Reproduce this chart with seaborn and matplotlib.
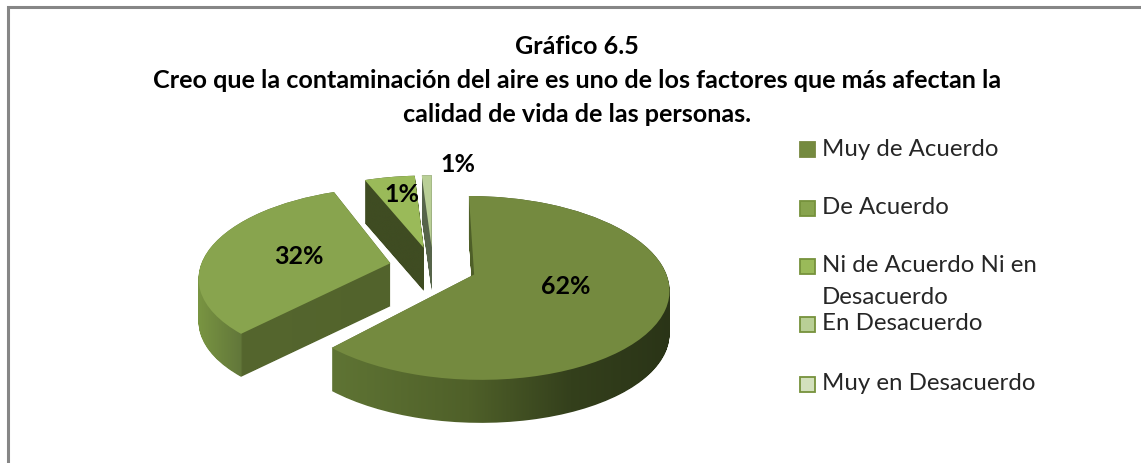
import matplotlib
matplotlib.use('Agg')
import matplotlib.pyplot as plt
import numpy as np
import seaborn as sns
from matplotlib.colors import LinearSegmentedColormap
from matplotlib.lines import Line2D
from matplotlib.patches import Rectangle
from matplotlib.path import Path
from matplotlib.transforms import Transform

# datos del grafico
categorias = ['Muy de Acuerdo', 'De Acuerdo', 'Ni de Acuerdo Ni en\nDesacuerdo', 'En Desacuerdo', 'Muy en Desacuerdo']
valores = [62, 32, 5, 1, 0]
etiquetas = ['62%', '32%', '1%', '1%']

titulo = ['Gráfico 6.5',
          'Creo que la contaminación del aire es uno de los factores que más afectan la',
          'calidad de vida de las personas.']

colores = ['#748a3f', '#88a44e', '#9aba59', '#b9cf96', '#d3e0bd']
bordes = ['#76883f', '#76923c', '#76923c', '#76923c', '#76923c']
gradientes = [[(0, '#5f7434'), (0.4, '#4f6029'), (0.7, '#34401c'), (1, '#2a3417')],
              [(0, '#7a9642'), (0.23, '#62773a'), (0.235, '#55662e'), (1, '#52632c')],
              [(0, '#3f4c22'), (1, '#3f4c22')],
              [(0, '#56644a'), (1, '#56644a')]]

W, H = 1141, 463
RX = 190
CX, CY = 433, 267
PROF = 43


class Perspectiva(Transform):
    # pasa del pastel unitario a pixeles, lo de atras se ve mas chico
    input_dims = 2
    output_dims = 2

    def transform_non_affine(self, v):
        v = np.asarray(v, dtype=float)
        k = 1 + 0.144 * v[:, 1]
        return np.column_stack([RX * v[:, 0] / k, 87.8 * v[:, 1] / k])


def fx(x):
    return x / W


def fyp(y):
    return 1 - y / H


sns.set_theme(style='white')
plt.rcParams['font.family'] = ['Lato', 'DejaVu Sans']

fig, ax = plt.subplots(figsize=(W / 100, H / 100), dpi=100)
ax.set_position([0, 0, 1, 1])

wedges, _ = ax.pie(valores, colors=sns.color_palette(colores), startangle=90, counterclock=False,
                   explode=[0.23] * len(valores), radius=1, wedgeprops={'linewidth': 0})
ax.set_aspect('auto')

persp = Perspectiva()

# paredes del pastel: el gajo barrido hacia abajo, con degradado horizontal
orden = [3, 2, 1, 0]
for z, i in enumerate(orden):
    w = wedges[i]
    p = persp.transform_path(w.get_path())
    partes = []
    for t in np.linspace(0, PROF, 44):
        partes.append(Path(p.vertices - [0, t], p.codes))
    barrido = Path.make_compound_path(*partes)
    cmap = LinearSegmentedColormap.from_list('pared%d' % i, gradientes[i], N=512)
    x0, x1 = p.vertices[:, 0].min(), p.vertices[:, 0].max()
    y0, y1 = barrido.vertices[:, 1].min(), barrido.vertices[:, 1].max()
    img = ax.imshow(np.linspace(0, 1, 256).reshape(1, -1), cmap=cmap, aspect='auto',
                    extent=(x0, x1, y0, y1), zorder=2 * z + 1, interpolation='bilinear')
    img.set_clip_path(barrido, ax.transData)
    w.set_transform(persp + ax.transData)
    w.set_zorder(2 * z + 2)

ax.set_xlim(-CX, W - CX)
ax.set_ylim(-(H - CY), CY)
ax.axis('off')

# marco: solo arriba y a la izquierda
fig.add_artist(Line2D([fx(8), fx(8), 1], [0, fyp(7), fyp(7)], transform=fig.transFigure,
                      color='#868686', linewidth=2.2, solid_joinstyle='miter'))

for linea, y in zip(titulo, [46, 80, 114]):
    fig.text(fx(577), fyp(y), linea, ha='center', va='center', fontsize=18.1, fontweight='bold', color='black')

# etiquetas de porcentaje
pos_etiquetas = [(566, 287), (299, 256), (402, 194), (458, 165)]
for e, (x, y) in zip(etiquetas, pos_etiquetas):
    fig.text(fx(x), fyp(y), e, ha='center', va='center', fontsize=18, fontweight='bold', color='black', zorder=20)

# leyenda a mano, el renglon doble se encima con el siguiente
pos_leyenda = [149, 208, 266, 324, 384]
for i, (c, y) in enumerate(zip(categorias, pos_leyenda)):
    fig.add_artist(Rectangle((fx(800), fyp(y + 7.5)), 15 / W, 15 / H, transform=fig.transFigure,
                             facecolor=colores[i], edgecolor=bordes[i], linewidth=1.3))
    for k, linea in enumerate(c.split('\n')):
        fig.text(fx(822), fyp(y + k * 32), linea, ha='left', va='center', fontsize=17.3, color='#262626')

fig.savefig('out.png', dpi=100)
